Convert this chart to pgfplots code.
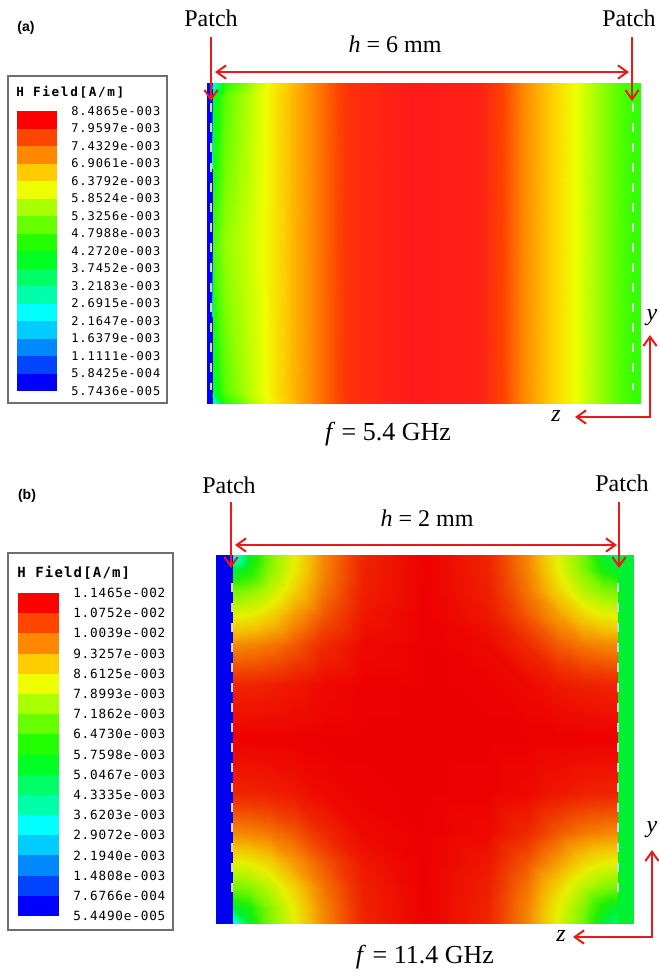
\documentclass[border=0pt]{standalone}
\usepackage{fontspec}
\setmainfont{Liberation Serif}
\newfontfamily\sansb{Liberation Sans}
\newfontfamily\legA[LetterSpace=8]{DejaVu Sans Mono}
\newfontfamily\legAt[LetterSpace=13]{DejaVu Sans Mono}
\newfontfamily\legB[LetterSpace=6.5]{DejaVu Sans Mono}
\newfontfamily\legBt[LetterSpace=8.4]{DejaVu Sans Mono}
\usepackage{pgfplots}
\pgfplotsset{compat=1.18}
\usetikzlibrary{arrows.meta}

\definecolor{h0}{RGB}{0,0,255}
\definecolor{h1}{RGB}{0,68,255}
\definecolor{h2}{RGB}{0,136,255}
\definecolor{h3}{RGB}{0,204,255}
\definecolor{h4}{RGB}{0,255,255}
\definecolor{h5}{RGB}{0,255,170}
\definecolor{h6}{RGB}{0,255,102}
\definecolor{h7}{RGB}{0,255,34}
\definecolor{h8}{RGB}{34,255,0}
\definecolor{h9}{RGB}{102,255,0}
\definecolor{h10}{RGB}{170,255,0}
\definecolor{h11}{RGB}{238,255,0}
\definecolor{h12}{RGB}{255,204,0}
\definecolor{h13}{RGB}{255,136,0}
\definecolor{h14}{RGB}{255,69,0}
\definecolor{h15}{RGB}{255,0,0}
\definecolor{arr}{RGB}{235,25,25}
\definecolor{dsh}{RGB}{215,215,228}
\definecolor{bx}{RGB}{110,110,110}

\pgfplotsset{
 colormap={hfssa}{rgb255=(0,0,255) rgb255=(0,68,255) rgb255=(0,136,255) rgb255=(0,204,255) rgb255=(0,255,255) rgb255=(0,255,170) rgb255=(0,255,102) rgb255=(0,255,34) rgb255=(34,255,0) rgb255=(102,255,0) rgb255=(170,255,0) rgb255=(238,255,0) rgb255=(255,204,0) rgb255=(255,136,0) rgb255=(255,69,0) rgb255=(255,25,25)},
 colormap={hfssb}{rgb255=(0,0,240) rgb255=(0,68,255) rgb255=(0,136,255) rgb255=(0,204,255) rgb255=(0,255,255) rgb255=(0,255,170) rgb255=(0,250,102) rgb255=(0,240,50) rgb255=(34,240,0) rgb255=(102,245,0) rgb255=(170,245,0) rgb255=(230,240,0) rgb255=(245,190,0) rgb255=(245,130,0) rgb255=(240,60,0) rgb255=(238,0,0)}}

\newcommand\band[3]{\addplot[fill=#3, draw=none] coordinates {(0,#1) (1,#1) (1,#2) (0,#2)} -- cycle;}
\newcommand\allbands{%
\band{0}{1}{h0}\band{1}{2}{h1}\band{2}{3}{h2}\band{3}{4}{h3}%
\band{4}{5}{h4}\band{5}{6}{h5}\band{6}{7}{h6}\band{7}{8}{h7}%
\band{8}{9}{h8}\band{9}{10}{h9}\band{10}{11}{h10}\band{11}{12}{h11}%
\band{12}{13}{h12}\band{13}{14}{h13}\band{14}{15}{h14}\band{15}{16}{h15}}

\tikzset{
  rarr/.style={draw=arr, line width=1.5pt, -{Straight Barb[length=7pt,width=10pt]}},
  darr/.style={draw=arr, line width=1.5pt, {Straight Barb[length=7pt,width=10pt]}-{Straight Barb[length=7pt,width=10pt]}},
  dline/.style={draw=dsh, line width=1.8pt, dash pattern=on 7pt off 8pt},
  big/.style={font=\fontsize{18}{20}\selectfont, inner sep=0pt, anchor=base},
  bigf/.style={font=\fontsize{19.5}{22}\selectfont, inner sep=0pt, anchor=base}
}

\begin{document}
\begin{tikzpicture}[x=0.75pt,y=-0.75pt]
\useasboundingbox (0,0) rectangle (659,976);
\coordinate (PA) at (207,403);
\coordinate (PB) at (216,923);
\coordinate (LA) at (17,391);
\coordinate (LB) at (18,916);

% ---------------- field plot (a): |H| in mA/m
\begin{axis}[at={(PA)}, anchor=south west, scale only axis,
  width=325.5pt, height=240pt, view={0}{90}, hide axis,
  xmin=0, xmax=434, ymin=0, ymax=320,
  colormap name=hfssa, point meta min=0.057436, point meta max=8.4865]
\addplot3[surf, shader=interp, mesh/cols=22, point meta=\thisrow{v}]
 table[x=x, y=y, z=v, row sep=\\] {
x y v\\
0 0 0.06\\ 5.5 0 0.06\\ 5.6 0 2.305\\ 18 0 4.553\\ 33 0 5.115\\ 48 0 5.789\\ 60 0 6.239\\ 73 0 6.632\\ 85 0 6.913\\ 100 0 7.250\\ 123 0 7.756\\ 143 0 8.206\\ 208 0 8.487\\ 273 0 8.374\\ 293 0 8.037\\ 316 0 7.363\\ 343 0 6.801\\ 366 0 6.295\\ 390 0 5.621\\ 413 0 4.946\\ 426 0 4.722\\ 434 0 4.665\\
0 12 0.06\\ 5.5 12 0.06\\ 5.6 12 3.991\\ 18 12 5.002\\ 33 12 5.508\\ 48 12 5.958\\ 60 12 6.295\\ 73 12 6.688\\ 85 12 6.969\\ 100 12 7.250\\ 123 12 7.756\\ 143 12 8.206\\ 208 12 8.487\\ 273 12 8.374\\ 293 12 8.037\\ 316 12 7.363\\ 343 12 6.801\\ 366 12 6.295\\ 390 12 5.621\\ 413 12 4.946\\ 426 12 4.722\\ 434 12 4.665\\
0 160 0.06\\ 5.5 160 0.06\\ 5.6 160 4.834\\ 18 160 5.508\\ 33 160 5.789\\ 48 160 6.070\\ 60 160 6.351\\ 73 160 6.688\\ 85 160 6.969\\ 100 160 7.250\\ 123 160 7.756\\ 143 160 8.206\\ 208 160 8.487\\ 273 160 8.374\\ 293 160 8.037\\ 316 160 7.363\\ 343 160 6.801\\ 366 160 6.295\\ 390 160 5.621\\ 413 160 4.946\\ 426 160 4.722\\ 434 160 4.665\\
0 308 0.06\\ 5.5 308 0.06\\ 5.6 308 3.991\\ 18 308 5.002\\ 33 308 5.508\\ 48 308 5.958\\ 60 308 6.295\\ 73 308 6.688\\ 85 308 6.969\\ 100 308 7.250\\ 123 308 7.756\\ 143 308 8.206\\ 208 308 8.487\\ 273 308 8.374\\ 293 308 8.037\\ 316 308 7.363\\ 343 308 6.801\\ 366 308 6.295\\ 390 308 5.621\\ 413 308 4.946\\ 426 308 4.722\\ 434 308 4.665\\
0 320 0.06\\ 5.5 320 0.06\\ 5.6 320 2.305\\ 18 320 4.553\\ 33 320 5.115\\ 48 320 5.789\\ 60 320 6.239\\ 73 320 6.632\\ 85 320 6.913\\ 100 320 7.250\\ 123 320 7.756\\ 143 320 8.206\\ 208 320 8.487\\ 273 320 8.374\\ 293 320 8.037\\ 316 320 7.363\\ 343 320 6.801\\ 366 320 6.295\\ 390 320 5.621\\ 413 320 4.946\\ 426 320 4.722\\ 434 320 4.665\\
};
\end{axis}

% ---------------- field plot (b): |H| in mA/m
\begin{axis}[at={(PB)}, anchor=south west, scale only axis,
  width=313.5pt, height=276pt, view={0}{90}, hide axis,
  xmin=0, xmax=418, ymin=0, ymax=368,
  colormap name=hfssb, point meta min=0.05449, point meta max=11.465]
\addplot3[surf, shader=interp, mesh/cols=17, point meta=\thisrow{v}]
 table[x=x, y=y, z=v, row sep=\\] {
x y v\\
0 0 0.06\\ 16.9 0 0.06\\ 17 0 2.717\\ 32 0 5.379\\ 52 0 7.053\\ 77 0 8.346\\ 107 0 9.867\\ 147 0 11.008\\ 209.5 0 11.465\\ 272 0 11.008\\ 312 0 9.867\\ 342 0 8.346\\ 367 0 7.053\\ 387 0 5.379\\ 402 0 4.618\\ 402.1 0 5.379\\ 418 0 5.379\\
0 15 0.06\\ 16.9 15 0.06\\ 17 15 5.379\\ 32 15 5.897\\ 52 15 7.212\\ 77 15 8.437\\ 107 15 9.905\\ 147 15 11.023\\ 209.5 15 11.465\\ 272 15 11.023\\ 312 15 9.905\\ 342 15 8.437\\ 367 15 7.212\\ 387 15 5.897\\ 402 15 5.379\\ 402.1 15 5.379\\ 418 15 5.379\\
0 35 0.06\\ 16.9 35 0.06\\ 17 35 7.053\\ 32 35 7.212\\ 52 35 7.806\\ 77 35 8.825\\ 107 35 10.057\\ 147 35 11.069\\ 209.5 35 11.465\\ 272 35 11.069\\ 312 35 10.057\\ 342 35 8.825\\ 367 35 7.806\\ 387 35 7.212\\ 402 35 7.053\\ 402.1 35 5.379\\ 418 35 5.379\\
0 60 0.06\\ 16.9 60 0.06\\ 17 60 8.346\\ 32 60 8.437\\ 52 60 8.825\\ 77 60 9.609\\ 107 60 10.385\\ 147 60 11.176\\ 209.5 60 11.465\\ 272 60 11.176\\ 312 60 10.385\\ 342 60 9.609\\ 367 60 8.825\\ 387 60 8.437\\ 402 60 8.346\\ 402.1 60 5.379\\ 418 60 5.379\\
0 90 0.06\\ 16.9 90 0.06\\ 17 90 9.867\\ 32 90 9.905\\ 52 90 10.057\\ 77 90 10.385\\ 107 90 10.932\\ 147 90 11.366\\ 209.5 90 11.465\\ 272 90 11.366\\ 312 90 10.932\\ 342 90 10.385\\ 367 90 10.057\\ 387 90 9.905\\ 402 90 9.867\\ 402.1 90 5.379\\ 418 90 5.379\\
0 130 0.06\\ 16.9 130 0.06\\ 17 130 11.008\\ 32 130 11.023\\ 52 130 11.069\\ 77 130 11.176\\ 107 130 11.366\\ 147 130 11.450\\ 209.5 130 11.465\\ 272 130 11.450\\ 312 130 11.366\\ 342 130 11.176\\ 367 130 11.069\\ 387 130 11.023\\ 402 130 11.008\\ 402.1 130 5.379\\ 418 130 5.379\\
0 184 0.06\\ 16.9 184 0.06\\ 17 184 11.465\\ 32 184 11.465\\ 52 184 11.465\\ 77 184 11.465\\ 107 184 11.465\\ 147 184 11.465\\ 209.5 184 11.465\\ 272 184 11.465\\ 312 184 11.465\\ 342 184 11.465\\ 367 184 11.465\\ 387 184 11.465\\ 402 184 11.465\\ 402.1 184 5.379\\ 418 184 5.379\\
0 238 0.06\\ 16.9 238 0.06\\ 17 238 11.008\\ 32 238 11.023\\ 52 238 11.069\\ 77 238 11.176\\ 107 238 11.366\\ 147 238 11.450\\ 209.5 238 11.465\\ 272 238 11.450\\ 312 238 11.366\\ 342 238 11.176\\ 367 238 11.069\\ 387 238 11.023\\ 402 238 11.008\\ 402.1 238 5.379\\ 418 238 5.379\\
0 278 0.06\\ 16.9 278 0.06\\ 17 278 9.867\\ 32 278 9.905\\ 52 278 10.057\\ 77 278 10.385\\ 107 278 10.932\\ 147 278 11.366\\ 209.5 278 11.465\\ 272 278 11.366\\ 312 278 10.932\\ 342 278 10.385\\ 367 278 10.057\\ 387 278 9.905\\ 402 278 9.867\\ 402.1 278 5.379\\ 418 278 5.379\\
0 308 0.06\\ 16.9 308 0.06\\ 17 308 8.346\\ 32 308 8.437\\ 52 308 8.825\\ 77 308 9.609\\ 107 308 10.385\\ 147 308 11.176\\ 209.5 308 11.465\\ 272 308 11.176\\ 312 308 10.385\\ 342 308 9.609\\ 367 308 8.825\\ 387 308 8.437\\ 402 308 8.346\\ 402.1 308 5.379\\ 418 308 5.379\\
0 333 0.06\\ 16.9 333 0.06\\ 17 333 7.053\\ 32 333 7.212\\ 52 333 7.806\\ 77 333 8.825\\ 107 333 10.057\\ 147 333 11.069\\ 209.5 333 11.465\\ 272 333 11.069\\ 312 333 10.057\\ 342 333 8.825\\ 367 333 7.806\\ 387 333 7.212\\ 402 333 7.053\\ 402.1 333 5.379\\ 418 333 5.379\\
0 353 0.06\\ 16.9 353 0.06\\ 17 353 5.379\\ 32 353 5.897\\ 52 353 7.212\\ 77 353 8.437\\ 107 353 9.905\\ 147 353 11.023\\ 209.5 353 11.465\\ 272 353 11.023\\ 312 353 9.905\\ 342 353 8.437\\ 367 353 7.212\\ 387 353 5.897\\ 402 353 5.379\\ 402.1 353 5.379\\ 418 353 5.379\\
0 368 0.06\\ 16.9 368 0.06\\ 17 368 2.717\\ 32 368 5.379\\ 52 368 7.053\\ 77 368 8.346\\ 107 368 9.867\\ 147 368 11.008\\ 209.5 368 11.465\\ 272 368 11.008\\ 312 368 9.867\\ 342 368 8.346\\ 367 368 7.053\\ 387 368 5.379\\ 402 368 4.618\\ 402.1 368 5.379\\ 418 368 5.379\\
};
\end{axis}

% ---------------- legend (a)
\begin{axis}[at={(LA)}, anchor=south west, scale only axis,
  width=30pt, height=210pt, xmin=0, xmax=1, ymin=0, ymax=16,
  axis line style={draw=none}, xtick=\empty, ytick={0,1,...,16},
  major tick length=0pt, yticklabel pos=right,
  yticklabels={5.7436e-005,5.8425e-004,1.1111e-003,1.6379e-003,2.1647e-003,2.6915e-003,3.2183e-003,3.7452e-003,4.2720e-003,4.7988e-003,5.3256e-003,5.8524e-003,6.3792e-003,6.9061e-003,7.4329e-003,7.9597e-003,8.4865e-003},
  yticklabel style={font=\legA\fontsize{9}{10}\selectfont, anchor=west, inner sep=0pt, xshift=10.5pt, text=black}]
\allbands
\end{axis}

% ---------------- legend (b)
\begin{axis}[at={(LB)}, anchor=south west, scale only axis,
  width=30.75pt, height=242.25pt, xmin=0, xmax=1, ymin=0, ymax=16,
  axis line style={draw=none}, xtick=\empty, ytick={0,1,...,16},
  major tick length=0pt, yticklabel pos=right,
  yticklabels={5.4490e-005,7.6766e-004,1.4808e-003,2.1940e-003,2.9072e-003,3.6203e-003,4.3335e-003,5.0467e-003,5.7598e-003,6.4730e-003,7.1862e-003,7.8993e-003,8.6125e-003,9.3257e-003,1.0039e-002,1.0752e-002,1.1465e-002},
  yticklabel style={font=\legB\fontsize{9.5}{11}\selectfont, anchor=west, inner sep=0pt, xshift=10.5pt, text=black}]
\allbands
\end{axis}

% legend frames and titles
\draw[bx, line width=1.1pt] (8,76) rectangle (167,403);
\node[anchor=base west, inner sep=0pt, font=\legAt\bfseries\fontsize{9.5}{11}\selectfont] at (16,96) {H Field[A/m]};
\draw[bx, line width=1.1pt] (8,553) rectangle (173,930);
\node[anchor=base west, inner sep=0pt, font=\legBt\bfseries\fontsize{10.5}{12}\selectfont] at (17,577) {H Field[A/m]};

% panel labels
\node[anchor=base, inner sep=0pt, font=\sansb\bfseries\fontsize{10.5}{12}\selectfont] at (26,31) {(a)};
\node[anchor=base, inner sep=0pt, font=\sansb\bfseries\fontsize{10.5}{12}\selectfont] at (27,499) {(b)};

% dashed patch lines
\draw[dline] (211,103) -- (211,390);
\draw[dline] (633,103) -- (633,390);
\draw[dline] (232,583) -- (232,902);
\draw[dline] (618,583) -- (618,902);

% annotations (a)
\node[big] at (211,26) {Patch};
\node[big] at (629,26) {Patch};
\draw[rarr] (211,37) -- (211,101);
\draw[rarr] (632,37) -- (632,101);
\draw[darr] (215,72) -- (629,72);
\node[big] at (395,52) {\textit{h} = 6 mm};
\node[bigf] at (388,440) {\textit{f} = 5.4 GHz};
\draw[darr] (575,417) -- (650,417) -- (650,335);
\node[big, anchor=center] at (652,318) {\textit{y}};
\node[big, anchor=center] at (556,416) {\textit{z}};

% annotations (b)
\node[big] at (229,493) {Patch};
\node[big] at (622,491) {Patch};
\draw[rarr] (231,502) -- (231,568);
\draw[rarr] (619,502) -- (619,568);
\draw[darr] (235,545) -- (617,545);
\node[big] at (427,526) {\textit{h} = 2 mm};
\node[bigf] at (425,963) {\textit{f} = 11.4 GHz};
\draw[darr] (573,937) -- (652,937) -- (652,850);
\node[big, anchor=center] at (652,830) {\textit{y}};
\node[big, anchor=center] at (561,936) {\textit{z}};
\end{tikzpicture}
\end{document}
